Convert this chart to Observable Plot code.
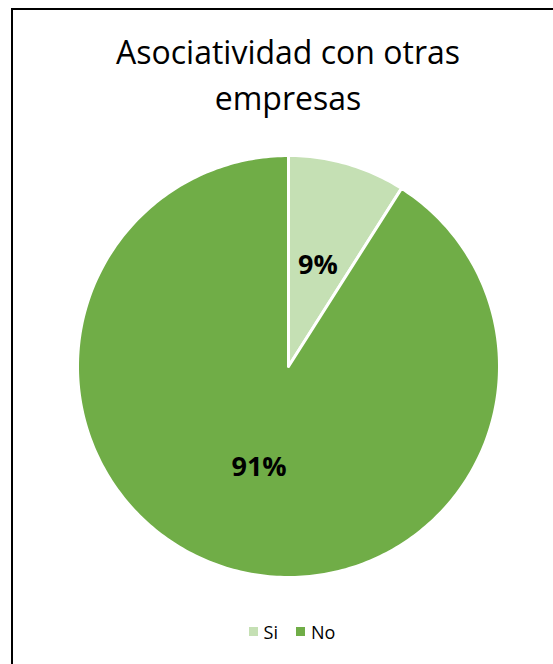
<!DOCTYPE html>
<html>
<head>
<meta charset="utf-8">
<script src="https://cdn.jsdelivr.net/npm/d3@7"></script>
<script src="https://cdn.jsdelivr.net/npm/@observablehq/plot@0.6"></script>
<style>
  html, body { margin: 0; padding: 0; background: #fff; width: 553px; height: 664px; overflow: hidden; }
  #frame { position: absolute; left: 11px; top: 8px; width: 600px; height: 700px;
           border-left: 2px solid #000; border-top: 2px solid #000; }
  #title { position: absolute; left: 0; top: 29px; width: 576px; text-align: center;
           font-family: "Open Sans", sans-serif; font-size: 32px; line-height: 46px; color: #000; }
  #chart { position: absolute; left: 0; top: 140px; }
  #legend { position: absolute; left: 0; top: 620px; width: 584px; text-align: center;
            font-family: "Open Sans", sans-serif; font-size: 18px; line-height: 24px; color: #000; white-space: nowrap; }
  #legend span.item { margin: 0 9px; }
  #legend span.sw { display: inline-block; width: 9px; height: 9px; margin-right: 6px; vertical-align: 3px; }
</style>
</head>
<body>
<div id="frame"></div>
<div id="title">Asociatividad con otras<br>empresas</div>
<div id="chart"></div>
<div id="legend"></div>
<script>
const categories = ["Si", "No"];
const values = [9, 91];
const labels = ["9%", "91%"];
const colors = ["#C5E0B4", "#70AD47"];

const data = categories.map((c, i) => ({name: c, value: values[i], label: labels[i]}));
const arcs = d3.pie().value(d => d.value).sort(null)(data);

// polygon points on unit circle for each slice
const pts = [];
arcs.forEach(a => {
  pts.push({name: a.data.name, u: 0, v: 0});
  const n = Math.max(4, Math.ceil((a.endAngle - a.startAngle) / (Math.PI / 180)));
  for (let k = 0; k <= n; k++) {
    const t = a.startAngle + (a.endAngle - a.startAngle) * k / n;
    pts.push({name: a.data.name, u: Math.sin(t), v: Math.cos(t)});
  }
  pts.push({name: a.data.name, u: 0, v: 0});
});
const lab = arcs.map(a => {
  const t = (a.startAngle + a.endAngle) / 2;
  return {label: a.data.label, u: 0.5 * Math.sin(t), v: 0.5 * Math.cos(t)};
});

const cx = 288, cy = 226, r = 211;
const W = 553, H = 470;
const plot = Plot.plot({
  width: W, height: H,
  margin: 0,
  x: {domain: [-1, 1], range: [cx - r, cx + r], axis: null},
  y: {domain: [-1, 1], range: [cy + r, cy - r], axis: null},
  color: {domain: categories, range: colors},
  style: {background: "transparent", overflow: "visible"},
  marks: [
    Plot.line(pts, {x: "u", y: "v", z: "name", fill: "name", stroke: "white", strokeWidth: 3, strokeLinejoin: "round", curve: "linear"}),
    Plot.text(lab, {x: "u", y: "v", text: "label", fontSize: 27, fontWeight: "bold", fill: "#000", fontFamily: "Open Sans, sans-serif"})
  ]
});
document.getElementById("chart").appendChild(plot);

const leg = document.getElementById("legend");
categories.forEach((c, i) => {
  const it = document.createElement("span");
  it.className = "item";
  const sw = document.createElement("span");
  sw.className = "sw";
  sw.style.background = colors[i];
  it.appendChild(sw);
  it.appendChild(document.createTextNode(c));
  leg.appendChild(it);
});
</script>
</body>
</html>
